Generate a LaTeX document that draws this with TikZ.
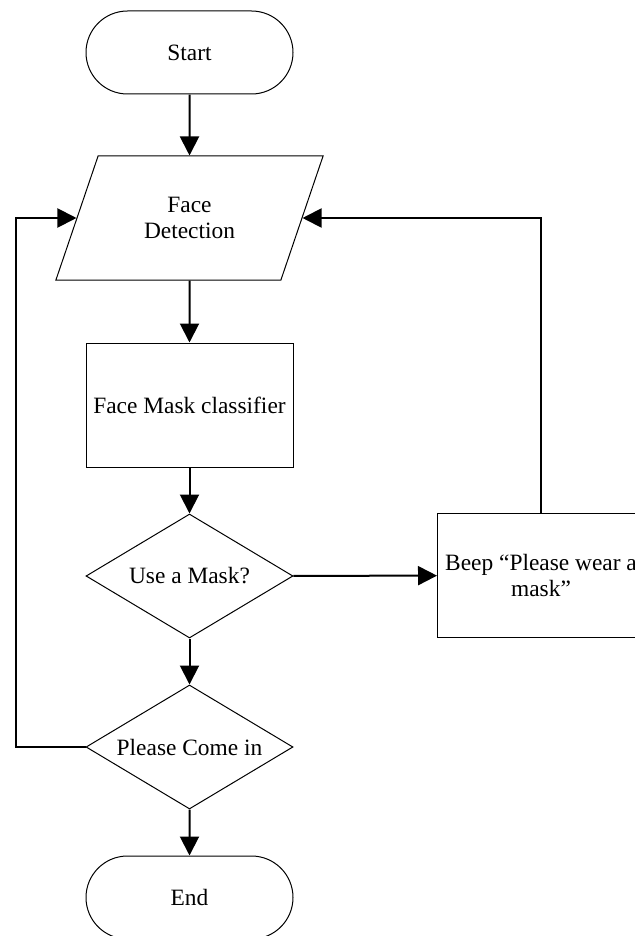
\documentclass[tikz,border=0pt]{standalone}
\usepackage{fontspec}
\setmainfont{Liberation Serif}
\usetikzlibrary{shapes.geometric,shapes.misc,arrows.meta}

\tikzset{
  box/.style={draw,line width=0.5pt,minimum width=103.5pt,minimum height=62pt,inner sep=0pt,align=center},
  term/.style={box,rounded rectangle,minimum height=41.5pt},
  io/.style={box,trapezium,trapezium left angle=63.43,trapezium right angle=116.57,trapezium stretches=true,minimum width=134pt},
  choice/.style={box,diamond,aspect=1.67},
  flow/.style={line width=1pt,-{Triangle[length=9.5pt,width=9.5pt]}}
}

\begin{document}
\begin{tikzpicture}[x=0.5pt,y=-0.5pt,font=\fontsize{11.7}{13.2}\selectfont]
\useasboundingbox (0,0) rectangle (635,936);

\node[term] (start) at (189.5,52.5) {Start};
\node[io] (detect) at (189.5,218) {Face\\Detection};
\node[box] (classify) at (189.5,405) {Face Mask classifier};
\node[choice] (mask) at (189.5,576) {Use a Mask?};
\node[choice] (comein) at (189.5,747) {Please Come in};
\node[term] (end) at (189.5,897.5) {End};
\node[box] (beep) at (541,575.5) {Beep “Please wear a\\mask”};
\coordinate (back) at (16,747);

\draw[flow] (start) -- (detect);
\draw[flow] (detect) -- (classify);
\draw[flow] (classify) -- (mask);
\draw[flow] (mask) -- (comein);
\draw[flow] (comein) -- (end);
\draw[flow] (mask) -- (beep);
\draw[flow] (beep.north) |- (detect.east);
\draw[flow] (comein.west) -- (back) |- (detect.west);
\end{tikzpicture}
\end{document}
